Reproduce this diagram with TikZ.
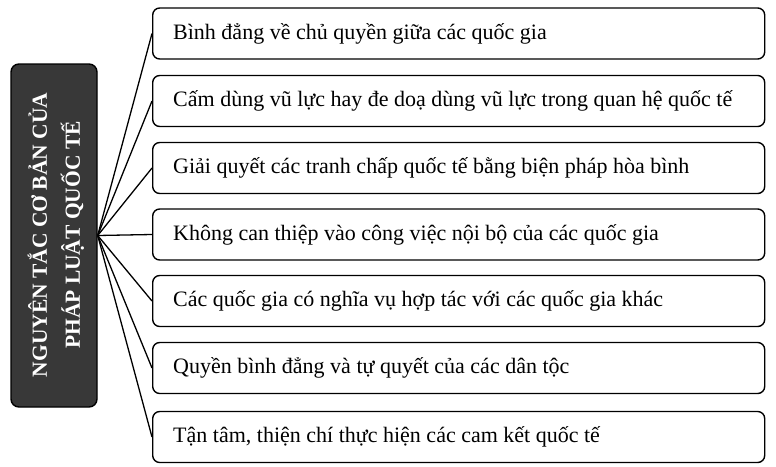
\documentclass[tikz,border=0pt]{standalone}
\usepackage{fontspec}
\setmainfont{Liberation Serif}
\begin{document}
\begin{tikzpicture}[x=1pt,y=-1pt,
  itembox/.style={draw=black, line width=1.4pt, rounded corners=7pt, minimum width=612pt, minimum height=51pt, anchor=west, inner sep=0pt},
  itemtext/.style={anchor=west, font=\fontsize{22pt}{25pt}\selectfont, inner sep=0pt},
  titlebox/.style={draw=black, fill=black!78, line width=1.4pt, rounded corners=8pt, minimum width=86pt, minimum height=343pt, inner sep=0pt},
  link/.style={draw=black, line width=1.3pt}]
\useasboundingbox (0,0) rectangle (776,466);
\node[titlebox] (T) at (54,235.5) {};
\node[text=white, rotate=90, align=center, font=\bfseries\fontsize{21.5pt}{33pt}\selectfont] (TT) at (56,235) {NGUYÊN TẮC CƠ BẢN CỦA\\PHÁP LUẬT QUỐC TẾ};
\foreach \i/\y/\t in {
  1/33.5/{Bình đẳng về chủ quyền giữa các quốc gia},
  2/101/{Cấm dùng vũ lực hay đe doạ dùng vũ lực trong quan hệ quốc tế},
  3/168/{Giải quyết các tranh chấp quốc tế bằng biện pháp hòa bình},
  4/234.5/{Không can thiệp vào công việc nội bộ của các quốc gia},
  5/301/{Các quốc gia có nghĩa vụ hợp tác với các quốc gia khác},
  6/368/{Quyền bình đẳng và tự quyết của các dân tộc},
  7/437/{Tận tâm, thiện chí thực hiện các cam kết quốc tế}}{
  \node[itembox] (B\i) at (152,\y) {};
  \node[itemtext] (L\i) at (173,\y) {\t};
  \draw[link] (T.east) -- (B\i.west);
}
\end{tikzpicture}
\end{document}
